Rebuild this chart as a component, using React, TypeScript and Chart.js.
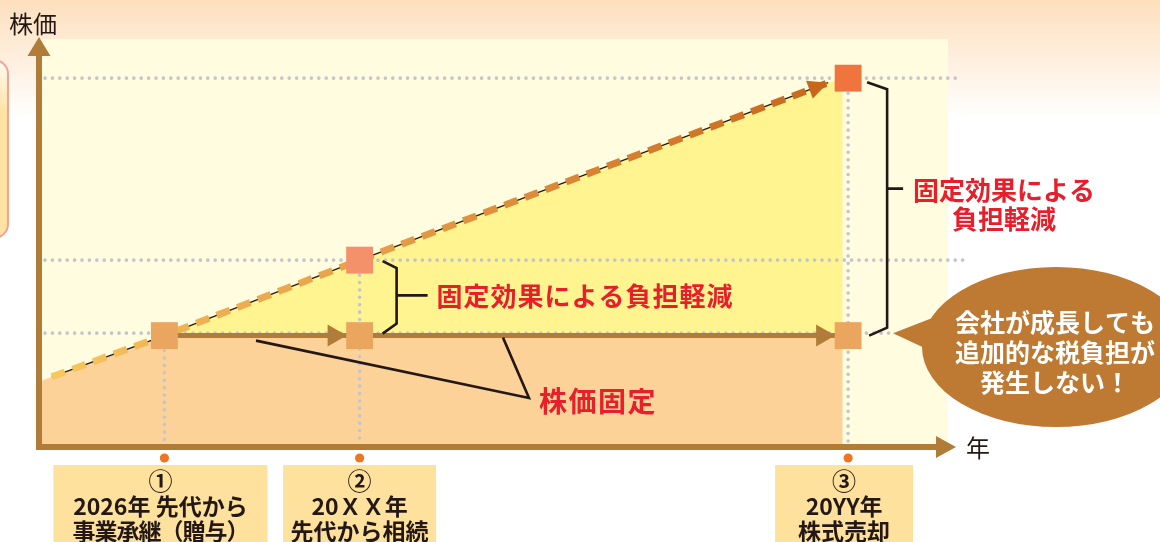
import React, { useEffect, useRef } from "react";
import { Chart, registerables } from "chart.js";

Chart.register(...registerables);

// ---------- data ----------
const eventX = [1.37, 3.52, 8.9];
const eventNumbers = ["①", "②", "③"];
const eventLine1 = ["2026年 先代から", "20ＸＸ年", "20YY年"];
const eventLine2 = ["事業承継（贈与）", "先代から相続", "株式売却"];
const fixedPrice = 27.3;
const baseStartY = 16.1;
const growthX = [0.13, 1.37, 3.52, 8.68];
const growthY = [17.2, 27.3, 45.8, 89.3];
const raisedY = [45.8, 90.4];
const fillEndX = 8.84;
const gridLevels = [27.9, 45.8, 90.4];
const yAxisTitle = "株価";
const xAxisTitle = "年";
const smallBraceText = "固定効果による負担軽減";
const bigBraceText = ["固定効果による", "負担軽減"];
const fixedText = "株価固定";
const calloutText = ["会社が成長しても", "追加的な税負担が", "発生しない！"];

const FONT = '"Noto Sans CJK JP", "Noto Sans", sans-serif';
const BROWN = "#b07c37";
const RED = "#e61f2b";
const INK = "#231815";

function tri(ctx: CanvasRenderingContext2D, tx: number, ty: number, ang: number, len: number, hw: number, color: string) {
  const bx = tx - Math.cos(ang) * len;
  const by = ty - Math.sin(ang) * len;
  const nx = -Math.sin(ang) * hw;
  const ny = Math.cos(ang) * hw;
  ctx.beginPath();
  ctx.moveTo(tx, ty);
  ctx.lineTo(bx + nx, by + ny);
  ctx.lineTo(bx - nx, by - ny);
  ctx.closePath();
  ctx.fillStyle = color;
  ctx.fill();
}

function dotted(ctx: CanvasRenderingContext2D, x1: number, y1: number, x2: number, y2: number) {
  ctx.save();
  ctx.strokeStyle = "#c3c4cc";
  ctx.lineWidth = 3.6;
  ctx.lineCap = "round";
  ctx.setLineDash([0, 7.4]);
  ctx.beginPath();
  ctx.moveTo(x1, y1);
  ctx.lineTo(x2, y2);
  ctx.stroke();
  ctx.restore();
}

const annotate = {
  id: "annotate",
  beforeDraw(chart: any) {
    const { ctx, chartArea: a, width, height } = chart;
    ctx.save();
    const g = ctx.createLinearGradient(0, 0, 0, 118);
    g.addColorStop(0, "#fddfbd");
    g.addColorStop(1, "#ffffff");
    ctx.fillStyle = g;
    ctx.fillRect(0, 0, width, height);
    const bg = ctx.createLinearGradient(0, 60, 0, 112);
    bg.addColorStop(0, "#fffaf2");
    bg.addColorStop(1, "#fee3a5");
    ctx.beginPath();
    ctx.roundRect(-24, 60, 32, 178, 14);
    ctx.fillStyle = bg;
    ctx.fill();
    ctx.lineWidth = 2;
    ctx.strokeStyle = "#f5a293";
    ctx.stroke();
    ctx.fillStyle = "#fffcdf";
    ctx.fillRect(a.left, a.top, a.right - a.left, a.bottom - a.top);
    ctx.restore();
  },
  beforeDatasetsDraw(chart: any) {
    const { ctx, chartArea: a, scales } = chart;
    const px = (v: number) => scales.x.getPixelForValue(v);
    const py = (v: number) => scales.y.getPixelForValue(v);
    const ext = [-55, 20, 9];
    gridLevels.forEach((lv, i) => dotted(ctx, a.left + 5, py(lv), a.right + ext[i], py(lv)));
    const tops = [fixedPrice, raisedY[0], raisedY[1]];
    eventX.forEach((ex, i) => dotted(ctx, px(ex), py(tops[i]) + 15, px(ex), a.bottom - 6));
  },
  afterDatasetsDraw(chart: any) {
    const { ctx, chartArea: a, scales } = chart;
    const px = (v: number) => scales.x.getPixelForValue(v);
    const py = (v: number) => scales.y.getPixelForValue(v);
    ctx.save();

    // arrows on the fixed-price line
    const fy = py(fixedPrice);
    for (let i = 1; i < eventX.length; i++) {
      tri(ctx, px(eventX[i]) - 13, fy, 0, 19, 11, BROWN);
    }
    // arrowhead of the growth line
    const n = growthX.length;
    const tx = px(growthX[n - 1]), ty = py(growthY[n - 1]);
    const sx = px(growthX[n - 2]), sy = py(growthY[n - 2]);
    tri(ctx, tx, ty, Math.atan2(ty - sy, tx - sx), 20, 9.5, "#c8661c");

    // braces
    ctx.strokeStyle = INK;
    ctx.lineWidth = 2.6;
    ctx.lineJoin = "miter";
    const e2 = px(eventX[1]);
    const sTop = py(raisedY[0]) + 1, sBot = fy - 2;
    ctx.beginPath();
    ctx.moveTo(e2 + 23, sTop);
    ctx.lineTo(e2 + 37, sTop + 7);
    ctx.lineTo(e2 + 37, sBot - 10);
    ctx.lineTo(e2 + 23, sBot);
    ctx.moveTo(e2 + 37, (sTop + sBot) / 2 - 2);
    ctx.lineTo(e2 + 68, (sTop + sBot) / 2 - 2);
    ctx.stroke();

    const e3 = px(eventX[2]);
    const bTop = py(raisedY[1]) + 4, bBot = fy;
    const bMid = bTop + 0.42 * (bBot - bTop);
    ctx.beginPath();
    ctx.moveTo(e3 + 19, bTop);
    ctx.lineTo(e3 + 39, bTop + 7);
    ctx.lineTo(e3 + 39, bBot - 8);
    ctx.lineTo(e3 + 21, bBot);
    ctx.moveTo(e3 + 39, bMid);
    ctx.lineTo(e3 + 55, bMid);
    ctx.stroke();

    // leader lines for 株価固定
    ctx.beginPath();
    ctx.moveTo(256, fy + 5);
    ctx.lineTo(529, 398);
    ctx.lineTo(503, fy + 2);
    ctx.stroke();

    // red labels
    ctx.fillStyle = RED;
    ctx.font = `bold 26px ${FONT}`;
    ctx.textBaseline = "middle";
    (ctx as any).letterSpacing = "1px";
    ctx.textAlign = "left";
    ctx.fillText(smallBraceText, e2 + 77, (sTop + sBot) / 2 - 1);
    ctx.font = `bold 28px ${FONT}`;
    (ctx as any).letterSpacing = "1.5px";
    ctx.fillText(fixedText, 539, 401);
    ctx.font = `bold 26px ${FONT}`;
    (ctx as any).letterSpacing = "0px";
    ctx.textAlign = "center";
    ctx.fillText(bigBraceText[0], 1004, bMid + 2);
    ctx.fillText(bigBraceText[1], 1004, bMid + 31);

    // callout bubble
    ctx.fillStyle = "#be7a32";
    ctx.beginPath();
    ctx.moveTo(a.right - 55, py(gridLevels[0]));
    ctx.lineTo(a.right - 8, 315);
    ctx.lineTo(a.right - 2, 358);
    ctx.closePath();
    ctx.fill();
    ctx.beginPath();
    ctx.ellipse(1056, 347, 134, 80, 0, 0, Math.PI * 2);
    ctx.fill();
    ctx.fillStyle = "#ffffff";
    ctx.font = `bold 25px ${FONT}`;
    calloutText.forEach((t, i) => ctx.fillText(t, 1055, 322 + i * 30));

    // event dots and label boxes
    const boxW = [214, 153, 138];
    const boxShift = [-4, 0, -4];
    eventX.forEach((ex, i) => {
      const x = px(ex);
      ctx.fillStyle = "#ee7623";
      ctx.beginPath();
      ctx.arc(x, a.bottom + 11, 4.6, 0, Math.PI * 2);
      ctx.fill();
      const cx = x + boxShift[i];
      ctx.fillStyle = "#fde19d";
      ctx.fillRect(cx - boxW[i] / 2, a.bottom + 18, boxW[i], 90);
      ctx.fillStyle = INK;
      ctx.font = `bold 24px ${FONT}`;
      ctx.fillText(eventNumbers[i], cx, a.bottom + 34);
      ctx.font = `bold 23px ${FONT}`;
      ctx.fillText(eventLine1[i], cx, a.bottom + 59);
      (ctx as any).letterSpacing = i === 0 ? "-1px" : "0px";
      ctx.fillText(eventLine2[i], cx, a.bottom + 84);
      (ctx as any).letterSpacing = "0px";
    });

    // axes with arrowheads
    ctx.strokeStyle = BROWN;
    ctx.lineWidth = 6;
    ctx.lineCap = "butt";
    ctx.beginPath();
    ctx.moveTo(a.left - 1, a.bottom + 3);
    ctx.lineTo(a.left - 1, a.top + 16);
    ctx.moveTo(a.left - 4, a.bottom);
    ctx.lineTo(a.right - 10, a.bottom);
    ctx.stroke();
    tri(ctx, a.left - 1, a.top - 2, -Math.PI / 2, 19, 11.5, BROWN);
    tri(ctx, a.right + 8, a.bottom, 0, 20, 11, BROWN);

    // axis titles
    ctx.fillStyle = INK;
    ctx.font = `24px ${FONT}`;
    ctx.textAlign = "left";
    ctx.fillText(yAxisTitle, 9, 24);
    ctx.fillText(xAxisTitle, a.right + 18, a.bottom + 1);
    ctx.restore();
  },
};

export default function App() {
  const ref = useRef<HTMLCanvasElement>(null);
  useEffect(() => {
    const canvas = ref.current;
    if (!canvas) return;
    const pt = (x: number, y: number) => ({ x, y });
    const chart = new Chart(canvas, {
      type: "line",
      data: {
        datasets: [
          {
            label: "markers",
            order: 0,
            data: [
              pt(eventX[0], fixedPrice),
              pt(eventX[1], fixedPrice),
              pt(eventX[1], raisedY[0]),
              pt(eventX[2], fixedPrice),
              pt(eventX[2], raisedY[1]),
            ],
            showLine: false,
            pointStyle: "rect",
            pointRadius: 19,
            pointBorderWidth: 0,
            pointBackgroundColor: ["#eaa65e", "#eaa65e", "#f5916a", "#eaa65e", "#f0743e"],
          },
          {
            label: "fixed",
            order: 1,
            data: [pt(eventX[0], fixedPrice), pt(eventX[2], fixedPrice)],
            borderColor: BROWN,
            borderWidth: 5,
            pointRadius: 0,
            fill: false,
          },
          {
            label: "growth",
            order: 2,
            data: growthX.map((x, i) => pt(x, growthY[i])),
            borderColor: (c: any) => {
              const chart = c.chart;
              const chartArea = chart && chart.chartArea;
              if (!chartArea) return "#e9a54c";
              const g = chart.ctx.createLinearGradient(chartArea.left, 0, chartArea.left + 790, 0);
              g.addColorStop(0, "#f9ca5e");
              g.addColorStop(0.16, "#f0b454");
              g.addColorStop(0.4, "#e7a14a");
              g.addColorStop(1, "#c8661c");
              return g;
            },
            borderWidth: 7,
            borderDash: [14, 8],
            borderCapStyle: "butt",
            pointRadius: 0,
            fill: false,
          },
          {
            label: "growthCore",
            order: 3,
            data: growthX.map((x, i) => pt(x, growthY[i])),
            borderColor: INK,
            borderWidth: 1.3,
            pointRadius: 0,
            fill: false,
          },
          {
            label: "reduction",
            order: 4,
            data: [
              pt(growthX[1], growthY[1]),
              pt(growthX[2], growthY[2]),
              pt(growthX[3], growthY[3]),
              pt(fillEndX, raisedY[1]),
            ],
            borderWidth: 0,
            borderColor: "transparent",
            pointRadius: 0,
            backgroundColor: "#fff490",
            fill: { value: fixedPrice },
          },
          {
            label: "base",
            order: 5,
            data: [pt(0, baseStartY), pt(eventX[0], fixedPrice), pt(fillEndX, fixedPrice)],
            borderWidth: 0,
            borderColor: "transparent",
            pointRadius: 0,
            backgroundColor: "#fcd298",
            fill: "origin",
          },
        ],
      },
      options: {
        animation: false,
        responsive: true,
        maintainAspectRatio: false,
        events: [],
        layout: { padding: { left: 40, right: 212, top: 39, bottom: 95 } },
        scales: {
          x: { type: "linear", min: 0, max: 10, display: false },
          y: { type: "linear", min: 0, max: 100, display: false },
        },
        plugins: {
          legend: { display: false },
          tooltip: { enabled: false },
          filler: { drawTime: "beforeDatasetsDraw" },
        },
      } as any,
      plugins: [annotate],
    } as any);
    return () => chart.destroy();
  }, []);
  return (
    <div style={{ position: "absolute", left: 0, top: 0, width: 1160, height: 542 }}>
      <canvas ref={ref} />
    </div>
  );
}
